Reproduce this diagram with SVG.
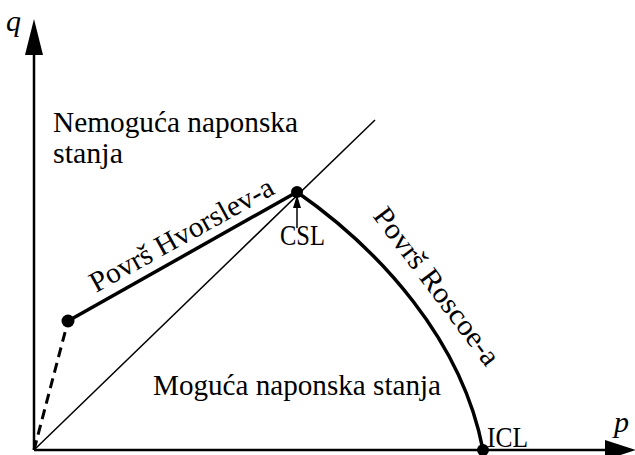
<svg xmlns="http://www.w3.org/2000/svg" width="635" height="455" viewBox="0 0 635 455">
<defs>
<style>
.t{font-family:"Liberation Serif","DejaVu Serif",serif;font-size:29px;fill:#000}
.i{font-family:"Liberation Serif",serif;font-style:italic;font-size:30px;fill:#000}
.thin{stroke:#000;stroke-width:1.5;fill:none}
.thick{stroke:#000;stroke-width:3.5;fill:none}
</style>
</defs>
<rect width="635" height="455" fill="#fff"/>
<g id="axes">
<line class="thin" x1="34" y1="450" x2="34" y2="50" style="stroke-width:2.5"/>
<polygon points="34,19 25,55 43,55" fill="#000"/>
<line class="thin" x1="34" y1="450" x2="610" y2="450" style="stroke-width:2.5"/>
<polygon points="636,450 605,440 605,460" fill="#000"/>
<text class="i" x="6" y="31">q</text>
<text class="i" x="614" y="432">p</text>
</g>
<g id="connectors">
<line class="thin" x1="34" y1="450" x2="375" y2="120"/>
<line class="thick" x1="34" y1="450" x2="68" y2="321" stroke-dasharray="10,6" style="stroke-width:3"/>
<line class="thick" x1="68" y1="321" x2="297" y2="192"/>
<path class="thick" d="M297,192 C380,250 462,340 483,450"/>
<line class="thin" x1="297" y1="228" x2="297" y2="205"/>
<polygon points="297,195 293,208 301,208" fill="#000"/>
</g>
<g id="points">
<circle cx="68" cy="321" r="6.5" fill="#000"/>
<circle cx="297" cy="192" r="6" fill="#000"/>
<circle cx="483" cy="450" r="6" fill="#000"/>
</g>
<g id="labels">
<text class="t" x="53" y="132" textLength="245" lengthAdjust="spacingAndGlyphs">Nemoguća naponska</text>
<text class="t" x="53" y="163" textLength="70" lengthAdjust="spacingAndGlyphs">stanja</text>
<text class="t" x="153" y="395" textLength="288" lengthAdjust="spacingAndGlyphs">Moguća naponska stanja</text>
<text class="t" x="280" y="245" textLength="45" lengthAdjust="spacingAndGlyphs">CSL</text>
<text class="t" x="487" y="447" textLength="41" lengthAdjust="spacingAndGlyphs">ICL</text>
<text class="t" transform="translate(96,293) rotate(-29)" textLength="206" lengthAdjust="spacingAndGlyphs">Površ Hvorslev-a</text>
<text class="t" transform="translate(372,216) rotate(53)" textLength="190" lengthAdjust="spacingAndGlyphs">Površ Roscoe-a</text>
</g>
</svg>
